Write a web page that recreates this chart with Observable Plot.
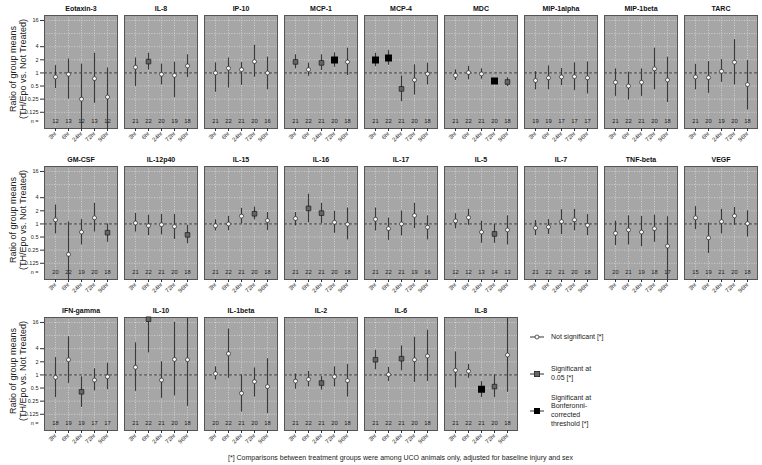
<!DOCTYPE html>
<html><head><meta charset="utf-8">
<script src="https://cdn.jsdelivr.net/npm/d3@7"></script>
<script src="https://cdn.jsdelivr.net/npm/@observablehq/plot@0.6"></script>
<style>
body{margin:0;background:#fff;font-family:"Liberation Sans",Arial,Helvetica,sans-serif;}
#wrap{position:relative;width:762px;height:465px;overflow:hidden;}
#wrap svg{display:block;}
.foot{position:absolute;left:44px;width:713px;top:453px;text-align:center;font-size:7px;line-height:9px;color:#222;white-space:nowrap;}
.leg{position:absolute;left:529px;display:flex;align-items:center;font-size:7px;line-height:8.7px;color:#222;}
.leg svg{margin-right:6px;}
</style></head><body><div id="wrap"></div>
<script>
const times = ["3hr","6hr","24hr","72hr","96hr"];
const panelNames = ["Eotaxin-3","IL-8","IP-10","MCP-1","MCP-4","MDC","MIP-1alpha","MIP-1beta","TARC",
  "GM-CSF","IL-12p40","IL-15","IL-16","IL-17","IL-5","IL-7","TNF-beta","VEGF",
  "IFN-gamma","IL-10","IL-1beta","IL-2","IL-6","IL-8"];
// ratio of group means (point estimate)
const estimate = [
  [0.81,0.93,0.25,0.74,0.28],[1.35,1.82,0.93,0.88,1.45],[1.0,1.28,1.19,1.82,1.0],
  [1.79,1.19,1.7,1.99,1.79],[1.99,2.2,0.43,0.69,0.95],[0.88,1.02,0.95,0.65,0.62],
  [0.67,0.77,0.81,0.82,0.77],[0.61,0.5,0.61,1.24,0.69],[0.81,0.78,1.09,1.76,0.54],
  [1.24,0.2,0.65,1.38,0.63],[1.05,0.91,0.96,0.87,0.56],[0.91,1.0,1.51,1.71,1.2],
  [1.33,2.27,1.77,1.09,0.98],[1.28,0.78,1.0,1.56,0.84],[1.17,1.4,0.65,0.59,0.73],
  [0.81,0.85,1.13,1.24,0.93],[0.61,0.73,0.65,0.78,0.31],[1.38,0.48,1.13,1.53,1.02],
  [0.88,2.23,0.41,0.76,0.91],[1.5,19,0.76,2.27,2.23],[1.07,3.08,0.38,0.7,0.54],
  [0.72,0.79,0.65,0.91,0.74],[2.23,1.02,2.36,2.23,2.72],[1.28,1.22,0.47,0.54,2.87]
];
// lower confidence limit
const lower = [
  [0.44,0.25,0.03,0.2,0.03],[0.49,1.17,0.53,0.27,0.78],[0.36,0.45,0.52,0.8,0.41],
  [1.24,0.84,1.13,1.35,0.87],[1.4,1.5,0.22,0.31,0.53],[0.67,0.7,0.72,0.56,0.49],
  [0.41,0.41,0.51,0.39,0.33],[0.29,0.24,0.29,0.41,0.21],[0.41,0.34,0.61,0.53,0.14],
  [0.59,0.03,0.33,0.65,0.38],[0.65,0.54,0.56,0.44,0.35],[0.69,0.7,1.0,1.24,0.71],
  [0.9,1.07,1.02,0.61,0.43],[0.69,0.42,0.53,0.78,0.43],[0.77,0.93,0.36,0.36,0.33],
  [0.54,0.57,0.57,0.7,0.54],[0.32,0.33,0.3,0.38,0.03],[0.74,0.21,0.59,0.93,0.5],
  [0.3,0.64,0.18,0.43,0.46],[0.42,3.2,0.29,0.33,0.19],[0.76,0.84,0.14,0.31,0.13],
  [0.47,0.53,0.45,0.53,0.31],[1.31,0.71,1.24,0.67,0.71],[0.5,0.84,0.3,0.3,0.4]
];
// upper confidence limit
const upper = [
  [1.47,2.1,1.6,2.83,1.3],[2.2,2.83,1.6,1.76,2.6],[1.7,2.2,1.73,4.3,2.3],
  [2.6,1.67,2.6,2.88,3.7],[2.83,3.25,0.85,1.53,1.67],[1.17,1.42,1.24,0.74,0.77],
  [1.07,1.45,1.26,1.7,1.79],[1.24,1.04,1.24,3.7,2.29],[1.58,1.82,2.02,5.8,1.92],
  [2.72,1.11,1.26,2.97,1.0],[1.74,1.59,1.65,1.65,0.93],[1.24,1.48,2.27,2.44,1.83],
  [1.83,4.8,2.97,1.94,2.32],[2.32,1.36,1.97,2.97,1.53],[1.71,2.16,1.15,0.98,1.53],
  [1.2,1.26,2.12,2.16,1.65],[1.15,1.53,1.48,1.59,1.46],[2.49,1.05,2.16,2.4,2.0],
  [2.49,7.5,0.9,1.38,1.87],[5.45,60,2.0,16,60],[1.53,11.3,1.0,1.45,2.36],
  [1.05,1.2,0.91,1.53,1.74],[3.68,1.48,4.65,7.3,10.6],[3.37,1.74,0.7,1.0,60]
];
// 0 = not significant, 1 = significant at 0.05, 2 = Bonferroni-corrected
const significance = [
  [0,0,0,0,0],[0,1,0,0,0],[0,0,0,0,0],[1,0,1,2,0],[2,2,1,0,0],[0,0,0,2,1],
  [0,0,0,0,0],[0,0,0,0,0],[0,0,0,0,0],
  [0,0,0,0,1],[0,0,0,0,1],[0,0,0,1,0],[0,1,1,0,0],[0,0,0,0,0],[0,0,0,1,0],
  [0,0,0,0,0],[0,0,0,0,0],[0,0,0,0,0],
  [0,0,1,0,0],[0,1,0,0,0],[0,0,0,0,0],[0,0,1,0,0],[1,0,1,0,0],[0,0,2,1,0]
];
const counts = [
  [12,13,12,13,12],[21,22,20,19,18],[21,22,21,20,16],[21,22,21,20,18],[21,22,21,20,18],
  [21,22,21,20,18],[19,19,17,17,17],[21,22,21,20,18],[21,20,19,20,18],
  [20,22,19,20,18],[21,22,21,20,18],[21,22,21,20,18],[21,22,21,20,18],[21,22,21,19,16],
  [12,12,13,14,13],[21,22,21,20,18],[20,21,19,18,17],[15,19,21,20,18],
  [18,19,19,17,17],[21,22,21,20,18],[20,22,21,20,18],[21,22,21,20,18],[21,22,21,20,18],[21,22,21,20,18]
];
const yTicks = [0.125,0.25,0.5,1,2,4,16];
const yGrid = [0.125,0.25,0.5,1,2,4,8,16];
const yTitle = "Ratio of group means\n(TH/Epo vs. Not Treated)";
const nLabel = "n =";
const legendLabels = [["Not significant [*]"],["Significant at","0.05 [*]"],["Significant at","Bonferonni-","corrected","threshold [*]"]];
const footnote = "[*] Comparisons between treatment groups were among UCO animals only, adjusted for baseline injury and sex";

const NCOL = 9;
const rows = [];
panelNames.forEach((name, i) => {
  times.forEach((t, j) => rows.push({
    panel: name, row: Math.floor(i / NCOL), col: i % NCOL, time: t,
    est: estimate[i][j], lo: lower[i][j], hi: upper[i][j], sig: significance[i][j], n: counts[i][j]
  }));
});
const panels = panelNames.map((name, i) => ({name, row: Math.floor(i / NCOL), col: i % NCOL}));
const leftPanels = panels.filter(p => p.col === 0);
const F = {fx: "col", fy: "row"};
const fmt = d => String(d);

const chart = Plot.plot({
  width: 762, height: 448,
  marginTop: 15, marginBottom: 18, marginLeft: 44, marginRight: 5,
  style: {fontFamily: "Liberation Sans, Arial, Helvetica, sans-serif", fontSize: "5.5px", color: "#222", background: "white", overflow: "visible"},
  facet: {marginTop: 0, marginBottom: 0, marginLeft: 0, marginRight: 0},
  fx: {domain: d3.range(NCOL), paddingInner: 0.0875, paddingOuter: 0, axis: null},
  fy: {domain: d3.range(3), paddingInner: 0.252, paddingOuter: 0, axis: null},
  x: {type: "point", domain: times, padding: 0.7, axis: null},
  y: {type: "log", base: 2, domain: [0.053, 20.8], axis: null},
  marks: [
    Plot.frame({fill: "#a6a6a6"}),
    Plot.gridY(yGrid, {stroke: "white", strokeOpacity: 0.6, strokeDasharray: "1,1.5", strokeWidth: 0.8}),
    Plot.gridX(times, {stroke: "white", strokeOpacity: 0.6, strokeDasharray: "1,1.5", strokeWidth: 0.8}),
    Plot.ruleY([1], {stroke: "#222", strokeDasharray: "3,2", strokeWidth: 0.8}),
    Plot.ruleX(rows, {...F, x: "time", y1: "lo", y2: "hi", stroke: "#3a3a3a", strokeWidth: 1.1, clip: true}),
    Plot.frame({stroke: "#555", strokeWidth: 1}),
    Plot.dot(rows.filter(d => d.sig === 0), {...F, x: "time", y: "est", r: 2, fill: "white", stroke: "#333", strokeWidth: 0.8}),
    Plot.dot(rows.filter(d => d.sig === 1), {...F, x: "time", y: "est", symbol: "square", r: 2.6, fill: "#666", stroke: "#222", strokeWidth: 0.8}),
    Plot.dot(rows.filter(d => d.sig === 2), {...F, x: "time", y: "est", symbol: "square", r: 3.1, fill: "#000", stroke: "#000"}),
    Plot.text(rows, {...F, x: "time", frameAnchor: "bottom", dy: -5.5, text: "n", fontSize: 5.8, fill: "#222"}),
    Plot.text(panels, {...F, frameAnchor: "top", dy: -9, text: "name", fontWeight: "bold", fontSize: 7, fill: "#111"}),
    Plot.text(leftPanels, {...F, frameAnchor: "bottom-left", dx: -6, dy: -5.5, text: () => nLabel, textAnchor: "end", fontSize: 5.5, fill: "#222"}),
    Plot.text(leftPanels, {...F, frameAnchor: "left", dx: -27, dy: -3, rotate: -90, textAnchor: "middle", lineAnchor: "middle", text: () => yTitle, fontSize: 9, lineHeight: 1.15, fill: "#222"}),
    Plot.axisY({ticks: yTicks, tickFormat: fmt, tickSize: 4, tickPadding: 2, fontSize: 5.5, label: null, anchor: "left", stroke: "#333"}),
    Plot.axisX({ticks: times, tickRotate: -45, tickSize: 3, tickPadding: 1, fontSize: 5.8, label: null, anchor: "bottom", facetAnchor: null, stroke: "#333"})
  ]
});
const wrap = document.getElementById("wrap");
wrap.appendChild(chart);

// legend
const legendY = [337, 374, 411];
function glyph(sig) {
  const sym = sig === 0
    ? '<circle cx="8" cy="4" r="2" fill="white" stroke="#333" stroke-width="0.8"/>'
    : sig === 1
      ? '<rect x="5.4" y="1.4" width="5.2" height="5.2" fill="#666" stroke="#222" stroke-width="0.8"/>'
      : '<rect x="5" y="1" width="6" height="6" fill="#000"/>';
  return '<svg width="16" height="8" viewBox="0 0 16 8"><line x1="1" y1="4" x2="15" y2="4" stroke="#333" stroke-width="1"/>' + sym + '</svg>';
}
legendLabels.forEach((lines, i) => {
  const div = document.createElement("div");
  div.className = "leg";
  div.innerHTML = glyph(i) + '<div>' + lines.join("<br>") + '</div>';
  wrap.appendChild(div);
  const h = div.getBoundingClientRect().height;
  div.style.top = (legendY[i] - h / 2) + "px";
});
const foot = document.createElement("div");
foot.className = "foot";
foot.textContent = footnote;
wrap.appendChild(foot);
</script></body></html>
